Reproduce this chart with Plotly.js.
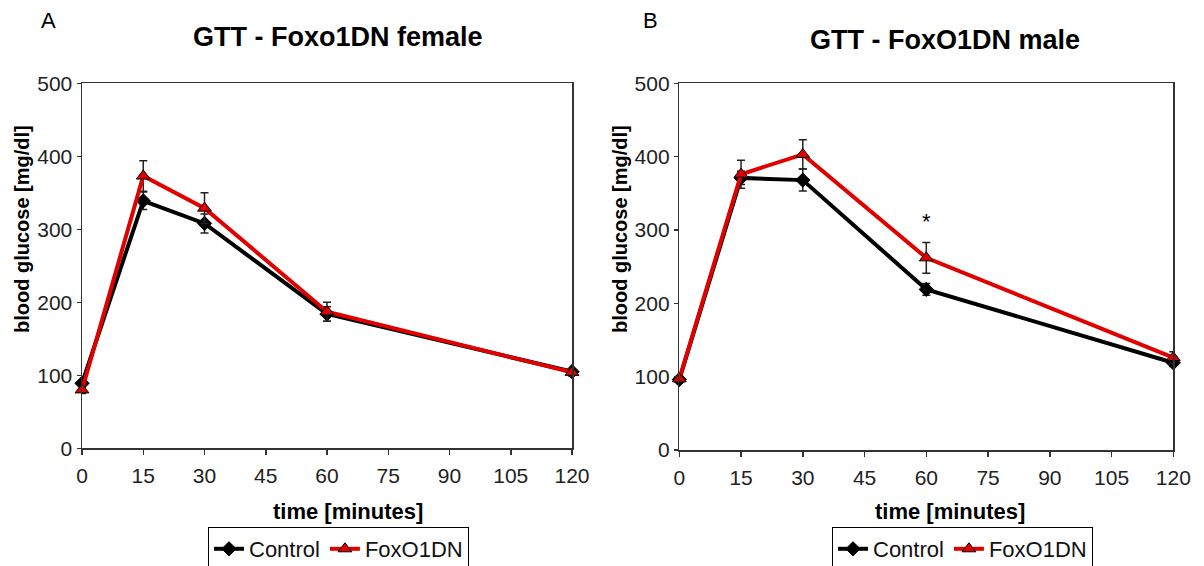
<!DOCTYPE html>
<html>
<head>
<meta charset="utf-8">
<script src="https://cdn.plot.ly/plotly-3.0.1.min.js"></script>
<style>html,body{margin:0;padding:0;background:#fff;}#chart{width:1204px;height:566px;}</style>
</head>
<body>
<div id="chart"></div>
<script>
const timeMin = [0, 15, 30, 60, 120];
const femaleControl = [89, 339, 308, 184, 105];
const femaleControlErr = [5, 12, 13, 10, 4];
const femaleFoxo = [80, 373, 329, 187, 104];
const femaleFoxoErr = [5, 21, 21, 13, 5];
const maleControl = [96, 371, 368, 219, 119];
const maleControlErr = [4, 9, 15, 8, 5];
const maleFoxo = [97, 376, 403, 262, 126];
const maleFoxoErr = [4, 19, 20, 21, 8];
const xTickVals = [0, 15, 30, 45, 60, 75, 90, 105, 120];
const yTickVals = [0, 100, 200, 300, 400, 500];
const seriesNames = ['Control', 'FoxO1DN'];
const panelTitles = ['GTT - Foxo1DN female', 'GTT - FoxO1DN male'];
const panelLetters = ['A', 'B'];
const xTitle = 'time [minutes]';
const yTitle = 'blood glucose [mg/dl]';
const sigMark = {x: 60, y: 312, text: '*'};

const FONT = 'Liberation Sans, Arial, sans-serif';
const RED = '#e00000';

function ctrlTrace(y, err, xa, ya, leg) {
  return {
    x: timeMin, y: y, name: seriesNames[0], type: 'scatter', mode: 'lines+markers',
    xaxis: xa, yaxis: ya, legend: leg, cliponaxis: false,
    line: {color: '#000', width: 4},
    marker: {symbol: 'diamond', size: 11, color: '#000', line: {color: '#000', width: 1}},
    error_y: {type: 'data', array: err, visible: true, color: '#222', thickness: 1.5, width: 4}
  };
}
function foxoTrace(y, err, xa, ya, leg) {
  return {
    x: timeMin, y: y, name: seriesNames[1], type: 'scatter', mode: 'lines+markers',
    xaxis: xa, yaxis: ya, legend: leg, cliponaxis: false,
    line: {color: RED, width: 4},
    marker: {symbol: 'triangle-up', size: 12, color: RED, line: {color: '#000', width: 1}},
    error_y: {type: 'data', array: err, visible: true, color: '#222', thickness: 1.5, width: 4}
  };
}

const data = [
  ctrlTrace(femaleControl, femaleControlErr, 'x', 'y', 'legend'),
  foxoTrace(femaleFoxo, femaleFoxoErr, 'x', 'y', 'legend'),
  ctrlTrace(maleControl, maleControlErr, 'x2', 'y2', 'legend2'),
  foxoTrace(maleFoxo, maleFoxoErr, 'x2', 'y2', 'legend2')
];

function xAxis(domain, anchor) {
  return {
    domain: domain, anchor: anchor, range: [0, 120], tickvals: xTickVals,
    ticks: 'outside', ticklen: 5, tickwidth: 1.5, tickcolor: '#333',
    showline: true, linecolor: '#333', linewidth: 1.5, mirror: true,
    showgrid: false, zeroline: false, ticklabelstandoff: 3,
    tickfont: {family: FONT, size: 21, color: '#222'}
  };
}
function yAxis(domain, anchor) {
  return {
    domain: domain, anchor: anchor, range: [0, 500], tickvals: yTickVals,
    ticks: 'outside', ticklen: 4, tickwidth: 1.5, tickcolor: '#333',
    showline: true, linecolor: '#333', linewidth: 1.5, mirror: true,
    showgrid: false, zeroline: false,
    tickfont: {family: FONT, size: 21, color: '#222'}
  };
}

const W = 1204, H = 566;
const px = v => v / W, py = v => 1 - v / H;

function ann(x, y, text, size, bold, extra) {
  return Object.assign({
    xref: 'paper', yref: 'paper', x: px(x), y: py(y), text: bold ? '<b>' + text + '</b>' : text,
    showarrow: false, xanchor: 'center', yanchor: 'middle',
    font: {family: FONT, size: size, color: '#000'}
  }, extra || {});
}

const layout = {
  width: W, height: H,
  margin: {l: 0, r: 0, t: 0, b: 0, autoexpand: false},
  paper_bgcolor: '#fff', plot_bgcolor: '#fff',
  showlegend: true,
  xaxis: xAxis([px(82), px(572)], 'y'),
  yaxis: yAxis([py(448.3), py(83.3)], 'x'),
  xaxis2: xAxis([px(679.3), px(1173.3)], 'y2'),
  yaxis2: yAxis([py(450), py(83.3)], 'x2'),
  legend: {
    x: px(208), y: py(527), xanchor: 'left', yanchor: 'top', orientation: 'h',
    bordercolor: '#000', borderwidth: 1, bgcolor: '#fff',
    font: {family: FONT, size: 22, color: '#111'}, itemwidth: 30, tracegroupgap: 0
  },
  legend2: {
    x: px(832), y: py(527), xanchor: 'left', yanchor: 'top', orientation: 'h',
    bordercolor: '#000', borderwidth: 1, bgcolor: '#fff',
    font: {family: FONT, size: 22, color: '#111'}, itemwidth: 30, tracegroupgap: 0
  },
  annotations: [
    ann(338, 37, panelTitles[0], 27, true),
    ann(945, 40, panelTitles[1], 27, true),
    ann(48, 20, panelLetters[0], 22, false),
    ann(650, 20, panelLetters[1], 22, false),
    ann(348, 511, xTitle, 22, true),
    ann(950, 511, xTitle, 22, true),
    ann(22, 229, yTitle, 20, true, {textangle: -90}),
    ann(620, 229, yTitle, 20, true, {textangle: -90}),
    {xref: 'x2', yref: 'y2', x: sigMark.x, y: sigMark.y, text: sigMark.text, showarrow: false,
     font: {family: FONT, size: 22, color: '#000'}}
  ]
};

Plotly.newPlot('chart', data, layout, {displayModeBar: false, staticPlot: true});
</script>
</body>
</html>
